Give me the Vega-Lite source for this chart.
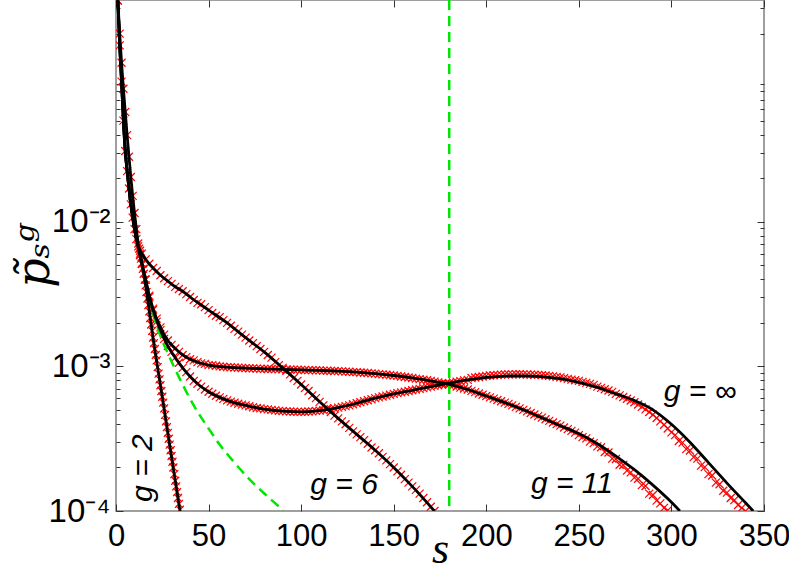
{
"$schema":"https://vega.github.io/schema/vega-lite/v6.json",
"width":648,"height":511,"autosize":"none",
"padding":{"left":116,"top":0,"right":25,"bottom":62},
"config":{"view":{"stroke":"#808080","strokeWidth":1.5},"axis":{"grid":false,"domain":false,"tickColor":"#333333","tickWidth":1,"labelFont":"Liberation Sans","labelColor":"#000000","labelFlush":false,"labelBound":false,"labelOverlap":false}},
"datasets":{
"sim":[
{"g":"6","s":1,"p":0.339},{"g":"6","s":2,"p":0.166},{"g":"6","s":3,"p":0.0933},{"g":"6","s":4,"p":0.0501},{"g":"6","s":5,"p":0.0309},{"g":"6","s":6,"p":0.0224},{"g":"6","s":7,"p":0.0170},{"g":"6","s":8,"p":0.0132},{"g":"6","s":9,"p":0.0107},{"g":"6","s":10,"p":0.00891},{"g":"6","s":11,"p":0.00759},{"g":"6","s":12,"p":0.00676},{"g":"6","s":13,"p":0.00631},
{"g":"6","s":14,"p":0.00603},{"g":"6","s":16,"p":0.00550},{"g":"6","s":18,"p":0.00513},{"g":"6","s":20,"p":0.00479},{"g":"6","s":22,"p":0.00457},{"g":"6","s":24,"p":0.00427},{"g":"6","s":26,"p":0.00407},{"g":"6","s":28,"p":0.00389},{"g":"6","s":30,"p":0.00372},{"g":"6","s":32,"p":0.00355},{"g":"6","s":34,"p":0.00343},{"g":"6","s":36,"p":0.00331},{"g":"6","s":38,"p":0.00316},{"g":"6","s":40,"p":0.00302},{"g":"6","s":42,"p":0.00288},{"g":"6","s":44,"p":0.00275},{"g":"6","s":46,"p":0.00269},{"g":"6","s":48,"p":0.00257},{"g":"6","s":50,"p":0.00245},{"g":"6","s":52,"p":0.00234},{"g":"6","s":54,"p":0.00224},{"g":"6","s":56,"p":0.00219},{"g":"6","s":58,"p":0.00209},{"g":"6","s":60,"p":0.00200},{"g":"6","s":62,"p":0.00191},{"g":"6","s":64,"p":0.00182},{"g":"6","s":66,"p":0.00174},{"g":"6","s":68,"p":0.00166},{"g":"6","s":70,"p":0.00158},{"g":"6","s":72,"p":0.00151},{"g":"6","s":74,"p":0.00145},{"g":"6","s":76,"p":0.00138},{"g":"6","s":78,"p":0.00132},{"g":"6","s":80,"p":0.00126},{"g":"6","s":82,"p":0.00120},{"g":"6","s":84,"p":0.00115},{"g":"6","s":86,"p":0.00107},{"g":"6","s":88,"p":0.00102},{"g":"6","s":90,"p":0.000977},{"g":"6","s":92,"p":0.000933},{"g":"6","s":94,"p":0.000881},{"g":"6","s":96,"p":0.000832},{"g":"6","s":98,"p":0.000794},{"g":"6","s":100,"p":0.000750},{"g":"6","s":102,"p":0.000708},{"g":"6","s":104,"p":0.000676},{"g":"6","s":106,"p":0.000631},{"g":"6","s":108,"p":0.000603},{"g":"6","s":110,"p":0.000569},{"g":"6","s":112,"p":0.000537},{"g":"6","s":114,"p":0.000513},{"g":"6","s":116,"p":0.000484},{"g":"6","s":118,"p":0.000457},{"g":"6","s":120,"p":0.000437},{"g":"6","s":122,"p":0.000417},{"g":"6","s":124,"p":0.000398},{"g":"6","s":126,"p":0.000376},{"g":"6","s":128,"p":0.000355},{"g":"6","s":130,"p":0.000339},{"g":"6","s":132,"p":0.000324},{"g":"6","s":134,"p":0.000309},{"g":"6","s":136,"p":0.000292},{"g":"6","s":138,"p":0.000275},{"g":"6","s":140,"p":0.000263},{"g":"6","s":142,"p":0.000251},{"g":"6","s":144,"p":0.000237},{"g":"6","s":146,"p":0.000224},{"g":"6","s":148,"p":0.000211},{"g":"6","s":150,"p":0.000200},{"g":"6","s":152,"p":0.000188},{"g":"6","s":154,"p":0.000178},{"g":"6","s":156,"p":0.000166},{"g":"6","s":158,"p":0.000157},{"g":"6","s":160,"p":0.000148},{"g":"6","s":162,"p":0.000140},{"g":"6","s":164,"p":0.000132},{"g":"6","s":166,"p":0.000123},{"g":"6","s":168,"p":0.000115},{"g":"6","s":170,"p":0.000107},{"g":"6","s":172,"p":0.000100},
{"g":"2","s":1,"p":0.339},{"g":"2","s":2,"p":0.200},{"g":"2","s":3,"p":0.126},{"g":"2","s":4,"p":0.0832},{"g":"2","s":5,"p":0.0575},{"g":"2","s":6,"p":0.0398},{"g":"2","s":7,"p":0.0282},{"g":"2","s":8,"p":0.0204},{"g":"2","s":9,"p":0.0151},{"g":"2","s":10,"p":0.0115},{"g":"2","s":11,"p":0.00891},{"g":"2","s":12,"p":0.00708},{"g":"2","s":12.5,"p":0.00653},{"g":"2","s":13,"p":0.00603},{"g":"2","s":13.5,"p":0.00556},{"g":"2","s":14,"p":0.00513},{"g":"2","s":14.5,"p":0.00473},{"g":"2","s":15,"p":0.00437},{"g":"2","s":15.5,"p":0.00398},{"g":"2","s":16,"p":0.00363},{"g":"2","s":16.5,"p":0.00327},{"g":"2","s":17,"p":0.00295},{"g":"2","s":17.5,"p":0.00266},{"g":"2","s":18,"p":0.00240},{"g":"2","s":18.5,"p":0.00216},{"g":"2","s":19,"p":0.00195},{"g":"2","s":19.5,"p":0.00176},{"g":"2","s":20,"p":0.00158},{"g":"2","s":20.5,"p":0.00145},{"g":"2","s":21,"p":0.00132},{"g":"2","s":21.5,"p":0.00120},{"g":"2","s":22,"p":0.00110},{"g":"2","s":22.5,"p":0.000989},{"g":"2","s":23,"p":0.000891},{"g":"2","s":23.5,"p":0.000813},{"g":"2","s":24,"p":0.000741},{"g":"2","s":24.5,"p":0.000676},{"g":"2","s":25,"p":0.000617},{"g":"2","s":25.5,"p":0.000562},{"g":"2","s":26,"p":0.000513},{"g":"2","s":26.5,"p":0.000462},{"g":"2","s":27,"p":0.000417},{"g":"2","s":27.5,"p":0.000380},{"g":"2","s":28,"p":0.000347},{"g":"2","s":28.5,"p":0.000316},{"g":"2","s":29,"p":0.000288},{"g":"2","s":29.5,"p":0.000263},{"g":"2","s":30,"p":0.000240},{"g":"2","s":30.5,"p":0.000219},{"g":"2","s":31,"p":0.000200},{"g":"2","s":31.5,"p":0.000180},{"g":"2","s":32,"p":0.000162},{"g":"2","s":32.5,"p":0.000148},{"g":"2","s":33,"p":0.000135},{"g":"2","s":33.5,"p":0.000123},{"g":"2","s":34,"p":0.000112},{"g":"2","s":34.5,"p":0.000102},
{"g":"11","s":13,"p":0.00589},{"g":"11","s":14,"p":0.00513},{"g":"11","s":16,"p":0.00398},{"g":"11","s":18,"p":0.00309},{"g":"11","s":20,"p":0.00251},{"g":"11","s":22,"p":0.00214},{"g":"11","s":24,"p":0.00186},{"g":"11","s":26,"p":0.00166},{"g":"11","s":28,"p":0.00151},{"g":"11","s":30,"p":0.00141},{"g":"11","s":32,"p":0.00133},{"g":"11","s":34,"p":0.00126},{"g":"11","s":36,"p":0.00120},{"g":"11","s":38,"p":0.00116},{"g":"11","s":40,"p":0.00112},{"g":"11","s":42,"p":0.00110},{"g":"11","s":44,"p":0.00107},{"g":"11","s":46,"p":0.00105},{"g":"11","s":48,"p":0.00104},{"g":"11","s":50,"p":0.00102},{"g":"11","s":52,"p":0.00102},{"g":"11","s":54,"p":0.00101},{"g":"11","s":56,"p":0.00100},{"g":"11","s":58,"p":0.000995},{"g":"11","s":60,"p":0.000989},{"g":"11","s":62,"p":0.000986},{"g":"11","s":64,"p":0.000982},{"g":"11","s":66,"p":0.000980},{"g":"11","s":68,"p":0.000975},{"g":"11","s":70,"p":0.000973},{"g":"11","s":72,"p":0.000971},{"g":"11","s":74,"p":0.000968},{"g":"11","s":76,"p":0.000966},{"g":"11","s":78,"p":0.000964},{"g":"11","s":80,"p":0.000962},{"g":"11","s":82,"p":0.000959},{"g":"11","s":84,"p":0.000959},{"g":"11","s":86,"p":0.000957},{"g":"11","s":88,"p":0.000957},{"g":"11","s":90,"p":0.000955},{"g":"11","s":92,"p":0.000953},{"g":"11","s":94,"p":0.000951},{"g":"11","s":96,"p":0.000951},{"g":"11","s":98,"p":0.000948},{"g":"11","s":100,"p":0.000946},{"g":"11","s":102,"p":0.000944},{"g":"11","s":104,"p":0.000942},{"g":"11","s":106,"p":0.000942},{"g":"11","s":108,"p":0.000940},{"g":"11","s":110,"p":0.000938},{"g":"11","s":112,"p":0.000936},{"g":"11","s":114,"p":0.000933},{"g":"11","s":116,"p":0.000931},{"g":"11","s":118,"p":0.000929},{"g":"11","s":120,"p":0.000927},{"g":"11","s":122,"p":0.000925},{"g":"11","s":124,"p":0.000920},{"g":"11","s":126,"p":0.000918},{"g":"11","s":128,"p":0.000914},{"g":"11","s":130,"p":0.000912},{"g":"11","s":132,"p":0.000908},{"g":"11","s":134,"p":0.000904},{"g":"11","s":136,"p":0.000900},{"g":"11","s":138,"p":0.000895},{"g":"11","s":140,"p":0.000891},{"g":"11","s":142,"p":0.000885},{"g":"11","s":144,"p":0.000881},{"g":"11","s":146,"p":0.000875},{"g":"11","s":148,"p":0.000871},{"g":"11","s":150,"p":0.000865},{"g":"11","s":152,"p":0.000859},{"g":"11","s":154,"p":0.000851},{"g":"11","s":156,"p":0.000845},{"g":"11","s":158,"p":0.000838},{"g":"11","s":160,"p":0.000832},{"g":"11","s":162,"p":0.000824},{"g":"11","s":164,"p":0.000817},{"g":"11","s":166,"p":0.000809},{"g":"11","s":168,"p":0.000802},{"g":"11","s":170,"p":0.000794},{"g":"11","s":172,"p":0.000785},{"g":"11","s":174,"p":0.000776},{"g":"11","s":176,"p":0.000767},{"g":"11","s":178,"p":0.000759},{"g":"11","s":180,"p":0.000750},{"g":"11","s":182,"p":0.000738},{"g":"11","s":184,"p":0.000726},{"g":"11","s":186,"p":0.000714},{"g":"11","s":188,"p":0.000703},{"g":"11","s":190,"p":0.000692},{"g":"11","s":192,"p":0.000678},{"g":"11","s":194,"p":0.000664},{"g":"11","s":196,"p":0.000650},{"g":"11","s":198,"p":0.000637},{"g":"11","s":200,"p":0.000624},{"g":"11","s":202,"p":0.000611},{"g":"11","s":204,"p":0.000598},{"g":"11","s":206,"p":0.000586},{"g":"11","s":208,"p":0.000574},{"g":"11","s":210,"p":0.000562},{"g":"11","s":212,"p":0.000550},{"g":"11","s":214,"p":0.000537},{"g":"11","s":216,"p":0.000525},{"g":"11","s":218,"p":0.000513},{"g":"11","s":220,"p":0.000501},{"g":"11","s":222,"p":0.000489},{"g":"11","s":224,"p":0.000476},{"g":"11","s":226,"p":0.000465},{"g":"11","s":228,"p":0.000453},{"g":"11","s":230,"p":0.000442},{"g":"11","s":232,"p":0.000431},{"g":"11","s":234,"p":0.000420},{"g":"11","s":236,"p":0.000409},{"g":"11","s":238,"p":0.000399},{"g":"11","s":240,"p":0.000389},{"g":"11","s":242,"p":0.000378},{"g":"11","s":244,"p":0.000368},{"g":"11","s":246,"p":0.000358},{"g":"11","s":248,"p":0.000348},{"g":"11","s":250,"p":0.000335},{"g":"11","s":252,"p":0.000324},{"g":"11","s":254,"p":0.000318},{"g":"11","s":256,"p":0.000302},{"g":"11","s":258,"p":0.000295},{"g":"11","s":260,"p":0.000280},{"g":"11","s":262,"p":0.000276},{"g":"11","s":264,"p":0.000256},{"g":"11","s":266,"p":0.000254},{"g":"11","s":268,"p":0.000230},{"g":"11","s":270,"p":0.000229},{"g":"11","s":272,"p":0.000209},{"g":"11","s":274,"p":0.000208},{"g":"11","s":276,"p":0.000190},{"g":"11","s":278,"p":0.000185},{"g":"11","s":280,"p":0.000170},{"g":"11","s":282,"p":0.000167},{"g":"11","s":284,"p":0.000151},{"g":"11","s":286,"p":0.000149},{"g":"11","s":288,"p":0.000132},{"g":"11","s":290,"p":0.000129},{"g":"11","s":292,"p":0.000118},{"g":"11","s":294,"p":0.000113},{"g":"11","s":296,"p":0.000105},{"g":"11","s":298,"p":0.000101},
{"g":"inf","s":13,"p":0.00589},{"g":"inf","s":14,"p":0.00513},{"g":"inf","s":16,"p":0.00398},{"g":"inf","s":18,"p":0.00302},{"g":"inf","s":20,"p":0.00245},{"g":"inf","s":22,"p":0.00204},{"g":"inf","s":24,"p":0.00178},{"g":"inf","s":26,"p":0.00155},{"g":"inf","s":28,"p":0.00138},{"g":"inf","s":30,"p":0.00126},{"g":"inf","s":32,"p":0.00115},{"g":"inf","s":34,"p":0.00106},{"g":"inf","s":36,"p":0.000977},{"g":"inf","s":38,"p":0.000912},{"g":"inf","s":40,"p":0.000851},{"g":"inf","s":42,"p":0.000794},{"g":"inf","s":44,"p":0.000759},{"g":"inf","s":46,"p":0.000724},{"g":"inf","s":48,"p":0.000692},{"g":"inf","s":50,"p":0.000668},{"g":"inf","s":52,"p":0.000647},{"g":"inf","s":54,"p":0.000627},{"g":"inf","s":56,"p":0.000610},{"g":"inf","s":58,"p":0.000596},{"g":"inf","s":60,"p":0.000582},{"g":"inf","s":62,"p":0.000571},{"g":"inf","s":64,"p":0.000561},{"g":"inf","s":66,"p":0.000552},{"g":"inf","s":68,"p":0.000544},{"g":"inf","s":70,"p":0.000537},{"g":"inf","s":72,"p":0.000530},{"g":"inf","s":74,"p":0.000522},{"g":"inf","s":76,"p":0.000516},{"g":"inf","s":78,"p":0.000512},{"g":"inf","s":80,"p":0.000507},{"g":"inf","s":82,"p":0.000504},{"g":"inf","s":84,"p":0.000500},{"g":"inf","s":86,"p":0.000497},{"g":"inf","s":88,"p":0.000493},{"g":"inf","s":90,"p":0.000491},{"g":"inf","s":92,"p":0.000489},{"g":"inf","s":94,"p":0.000488},{"g":"inf","s":96,"p":0.000486},{"g":"inf","s":98,"p":0.000485},{"g":"inf","s":100,"p":0.000485},{"g":"inf","s":102,"p":0.000486},{"g":"inf","s":104,"p":0.000488},{"g":"inf","s":106,"p":0.000489},{"g":"inf","s":108,"p":0.000492},{"g":"inf","s":110,"p":0.000495},{"g":"inf","s":112,"p":0.000499},{"g":"inf","s":114,"p":0.000502},{"g":"inf","s":116,"p":0.000507},{"g":"inf","s":118,"p":0.000513},{"g":"inf","s":120,"p":0.000519},{"g":"inf","s":122,"p":0.000525},{"g":"inf","s":124,"p":0.000531},{"g":"inf","s":126,"p":0.000538},{"g":"inf","s":128,"p":0.000547},{"g":"inf","s":130,"p":0.000556},{"g":"inf","s":132,"p":0.000565},{"g":"inf","s":134,"p":0.000574},{"g":"inf","s":136,"p":0.000583},{"g":"inf","s":138,"p":0.000593},{"g":"inf","s":140,"p":0.000603},{"g":"inf","s":142,"p":0.000611},{"g":"inf","s":144,"p":0.000619},{"g":"inf","s":146,"p":0.000628},{"g":"inf","s":148,"p":0.000637},{"g":"inf","s":150,"p":0.000646},{"g":"inf","s":152,"p":0.000653},{"g":"inf","s":154,"p":0.000661},{"g":"inf","s":156,"p":0.000668},{"g":"inf","s":158,"p":0.000676},{"g":"inf","s":160,"p":0.000684},{"g":"inf","s":162,"p":0.000692},{"g":"inf","s":164,"p":0.000700},{"g":"inf","s":166,"p":0.000708},{"g":"inf","s":168,"p":0.000716},{"g":"inf","s":170,"p":0.000724},{"g":"inf","s":172,"p":0.000733},{"g":"inf","s":174,"p":0.000741},{"g":"inf","s":176,"p":0.000750},{"g":"inf","s":178,"p":0.000759},{"g":"inf","s":180,"p":0.000767},{"g":"inf","s":182,"p":0.000776},{"g":"inf","s":184,"p":0.000783},{"g":"inf","s":186,"p":0.000791},{"g":"inf","s":188,"p":0.000800},{"g":"inf","s":190,"p":0.000807},{"g":"inf","s":192,"p":0.000832},{"g":"inf","s":194,"p":0.000838},{"g":"inf","s":196,"p":0.000845},{"g":"inf","s":198,"p":0.000851},{"g":"inf","s":200,"p":0.000859},{"g":"inf","s":202,"p":0.000865},{"g":"inf","s":204,"p":0.000869},{"g":"inf","s":206,"p":0.000873},{"g":"inf","s":208,"p":0.000877},{"g":"inf","s":210,"p":0.000879},{"g":"inf","s":212,"p":0.000881},{"g":"inf","s":214,"p":0.000881},{"g":"inf","s":216,"p":0.000883},{"g":"inf","s":218,"p":0.000883},{"g":"inf","s":220,"p":0.000881},{"g":"inf","s":222,"p":0.000879},{"g":"inf","s":224,"p":0.000877},{"g":"inf","s":226,"p":0.000875},{"g":"inf","s":228,"p":0.000873},{"g":"inf","s":230,"p":0.000871},{"g":"inf","s":232,"p":0.000865},{"g":"inf","s":234,"p":0.000859},{"g":"inf","s":236,"p":0.000853},{"g":"inf","s":238,"p":0.000847},{"g":"inf","s":240,"p":0.000839},{"g":"inf","s":242,"p":0.000830},{"g":"inf","s":244,"p":0.000820},{"g":"inf","s":246,"p":0.000811},{"g":"inf","s":248,"p":0.000802},{"g":"inf","s":250,"p":0.000794},{"g":"inf","s":252,"p":0.000782},{"g":"inf","s":254,"p":0.000769},{"g":"inf","s":256,"p":0.000757},{"g":"inf","s":258,"p":0.000745},{"g":"inf","s":260,"p":0.000724},{"g":"inf","s":262,"p":0.000710},{"g":"inf","s":264,"p":0.000695},{"g":"inf","s":266,"p":0.000681},{"g":"inf","s":268,"p":0.000667},{"g":"inf","s":270,"p":0.000646},{"g":"inf","s":272,"p":0.000631},{"g":"inf","s":274,"p":0.000614},{"g":"inf","s":276,"p":0.000597},{"g":"inf","s":278,"p":0.000581},{"g":"inf","s":280,"p":0.000565},{"g":"inf","s":282,"p":0.000545},{"g":"inf","s":284,"p":0.000525},{"g":"inf","s":286,"p":0.000505},{"g":"inf","s":288,"p":0.000484},{"g":"inf","s":290,"p":0.000463},{"g":"inf","s":292,"p":0.000440},{"g":"inf","s":294,"p":0.000417},{"g":"inf","s":296,"p":0.000395},{"g":"inf","s":298,"p":0.000372},{"g":"inf","s":300,"p":0.000350},{"g":"inf","s":302,"p":0.000335},{"g":"inf","s":304,"p":0.000305},{"g":"inf","s":306,"p":0.000297},{"g":"inf","s":308,"p":0.000268},{"g":"inf","s":310,"p":0.000262},{"g":"inf","s":312,"p":0.000236},{"g":"inf","s":314,"p":0.000230},{"g":"inf","s":316,"p":0.000206},{"g":"inf","s":318,"p":0.000201},{"g":"inf","s":320,"p":0.000180},{"g":"inf","s":322,"p":0.000176},{"g":"inf","s":324,"p":0.000157},{"g":"inf","s":326,"p":0.000153},{"g":"inf","s":328,"p":0.000138},{"g":"inf","s":330,"p":0.000134},{"g":"inf","s":332,"p":0.000123},{"g":"inf","s":334,"p":0.000119},{"g":"inf","s":336,"p":0.000110},{"g":"inf","s":338,"p":0.000105},{"g":"inf","s":340,"p":0.000100}
],
"fit":[
{"g":"6","s":1,"p":0.339},{"g":"6","s":2,"p":0.166},{"g":"6","s":3,"p":0.0933},{"g":"6","s":4,"p":0.0501},{"g":"6","s":5,"p":0.0309},{"g":"6","s":6,"p":0.0224},{"g":"6","s":7,"p":0.0170},{"g":"6","s":8,"p":0.0132},{"g":"6","s":9,"p":0.0107},{"g":"6","s":10,"p":0.00891},{"g":"6","s":11,"p":0.00759},{"g":"6","s":12,"p":0.00676},{"g":"6","s":13,"p":0.00631},{"g":"6","s":14,"p":0.00603},{"g":"6","s":16,"p":0.00550},{"g":"6","s":20,"p":0.00479},{"g":"6","s":24,"p":0.00427},{"g":"6","s":28,"p":0.00389},{"g":"6","s":32,"p":0.00355},{"g":"6","s":36,"p":0.00331},{"g":"6","s":40,"p":0.00302},{"g":"6","s":50,"p":0.00245},{"g":"6","s":60,"p":0.00200},{"g":"6","s":70,"p":0.00158},{"g":"6","s":80,"p":0.00126},{"g":"6","s":90,"p":0.000977},{"g":"6","s":100,"p":0.000750},{"g":"6","s":110,"p":0.000569},{"g":"6","s":120,"p":0.000437},{"g":"6","s":130,"p":0.000339},{"g":"6","s":140,"p":0.000263},{"g":"6","s":150,"p":0.000200},{"g":"6","s":160,"p":0.000148},{"g":"6","s":172,"p":0.000100},
{"g":"2","s":1,"p":0.339},{"g":"2","s":2,"p":0.200},{"g":"2","s":3,"p":0.126},{"g":"2","s":4,"p":0.0832},{"g":"2","s":5,"p":0.0575},{"g":"2","s":6,"p":0.0398},{"g":"2","s":7,"p":0.0282},{"g":"2","s":8,"p":0.0204},{"g":"2","s":9,"p":0.0151},{"g":"2","s":10,"p":0.0115},{"g":"2","s":11,"p":0.00891},{"g":"2","s":12,"p":0.00708},{"g":"2","s":13,"p":0.00603},{"g":"2","s":14,"p":0.00513},{"g":"2","s":15,"p":0.00437},{"g":"2","s":16,"p":0.00363},{"g":"2","s":18,"p":0.00240},{"g":"2","s":20,"p":0.00158},{"g":"2","s":24,"p":0.000741},{"g":"2","s":28,"p":0.000347},{"g":"2","s":32,"p":0.000162},{"g":"2","s":34.6,"p":0.000100},
{"g":"11","s":1,"p":0.339},{"g":"11","s":2,"p":0.166},{"g":"11","s":3,"p":0.0933},{"g":"11","s":4,"p":0.0501},{"g":"11","s":5,"p":0.0309},{"g":"11","s":6,"p":0.0224},{"g":"11","s":7,"p":0.0170},{"g":"11","s":8,"p":0.0132},{"g":"11","s":9,"p":0.0107},{"g":"11","s":10,"p":0.00891},{"g":"11","s":11,"p":0.00759},{"g":"11","s":12,"p":0.00676},{"g":"11","s":13,"p":0.00589},{"g":"11","s":14,"p":0.00513},{"g":"11","s":16,"p":0.00398},{"g":"11","s":18,"p":0.00309},{"g":"11","s":20,"p":0.00251},{"g":"11","s":24,"p":0.00186},{"g":"11","s":28,"p":0.00151},{"g":"11","s":32,"p":0.00133},{"g":"11","s":36,"p":0.00120},{"g":"11","s":40,"p":0.00112},{"g":"11","s":45,"p":0.00106},{"g":"11","s":50,"p":0.00102},{"g":"11","s":60,"p":0.000989},{"g":"11","s":70,"p":0.000973},{"g":"11","s":80,"p":0.000962},{"g":"11","s":90,"p":0.000955},{"g":"11","s":100,"p":0.000946},{"g":"11","s":110,"p":0.000938},{"g":"11","s":120,"p":0.000927},{"g":"11","s":130,"p":0.000912},{"g":"11","s":140,"p":0.000891},{"g":"11","s":150,"p":0.000865},{"g":"11","s":160,"p":0.000832},{"g":"11","s":170,"p":0.000794},{"g":"11","s":180,"p":0.000750},{"g":"11","s":190,"p":0.000692},{"g":"11","s":200,"p":0.000624},{"g":"11","s":210,"p":0.000562},{"g":"11","s":220,"p":0.000501},{"g":"11","s":230,"p":0.000442},{"g":"11","s":240,"p":0.000389},{"g":"11","s":250,"p":0.000343},{"g":"11","s":260,"p":0.000292},{"g":"11","s":270,"p":0.000240},{"g":"11","s":280,"p":0.000193},{"g":"11","s":290,"p":0.000151},{"g":"11","s":300,"p":0.000115},{"g":"11","s":304.6,"p":0.000100},
{"g":"inf","s":1,"p":0.339},{"g":"inf","s":2,"p":0.166},{"g":"inf","s":3,"p":0.0933},{"g":"inf","s":4,"p":0.0501},{"g":"inf","s":5,"p":0.0309},{"g":"inf","s":6,"p":0.0224},{"g":"inf","s":7,"p":0.0170},{"g":"inf","s":8,"p":0.0132},{"g":"inf","s":9,"p":0.0107},{"g":"inf","s":10,"p":0.00891},{"g":"inf","s":11,"p":0.00759},{"g":"inf","s":12,"p":0.00676},{"g":"inf","s":13,"p":0.00589},{"g":"inf","s":14,"p":0.00513},{"g":"inf","s":16,"p":0.00398},{"g":"inf","s":18,"p":0.00302},{"g":"inf","s":20,"p":0.00245},{"g":"inf","s":24,"p":0.00178},{"g":"inf","s":28,"p":0.00138},{"g":"inf","s":32,"p":0.00115},{"g":"inf","s":36,"p":0.000977},{"g":"inf","s":40,"p":0.000851},{"g":"inf","s":45,"p":0.000741},{"g":"inf","s":50,"p":0.000668},{"g":"inf","s":60,"p":0.000582},{"g":"inf","s":70,"p":0.000537},{"g":"inf","s":80,"p":0.000507},{"g":"inf","s":90,"p":0.000491},{"g":"inf","s":100,"p":0.000485},{"g":"inf","s":110,"p":0.000495},{"g":"inf","s":120,"p":0.000519},{"g":"inf","s":130,"p":0.000556},{"g":"inf","s":140,"p":0.000603},{"g":"inf","s":150,"p":0.000646},{"g":"inf","s":160,"p":0.000684},{"g":"inf","s":170,"p":0.000724},{"g":"inf","s":180,"p":0.000767},{"g":"inf","s":190,"p":0.000807},{"g":"inf","s":200,"p":0.000839},{"g":"inf","s":210,"p":0.000857},{"g":"inf","s":220,"p":0.000861},{"g":"inf","s":230,"p":0.000851},{"g":"inf","s":240,"p":0.000822},{"g":"inf","s":250,"p":0.000776},{"g":"inf","s":260,"p":0.000716},{"g":"inf","s":270,"p":0.000646},{"g":"inf","s":280,"p":0.000581},{"g":"inf","s":290,"p":0.000501},{"g":"inf","s":300,"p":0.000398},{"g":"inf","s":310,"p":0.000299},{"g":"inf","s":320,"p":0.000216},{"g":"inf","s":330,"p":0.000156},{"g":"inf","s":340,"p":0.000114},{"g":"inf","s":344.2,"p":0.000100}
],
"green":[{"s":18,"p":0.00302},{"s":20,"p":0.00234},{"s":24,"p":0.00162},{"s":28,"p":0.00123},{"s":34.6,"p":0.000813},{"s":42,"p":0.000537},{"s":50,"p":0.000372},{"s":56,"p":0.000288},{"s":64,"p":0.000216},{"s":72,"p":0.000166},{"s":81,"p":0.000129},{"s":90.4,"p":0.000101}],
"vline":[{"s":180}],
"rotlab":[{"t":"g = 2","s":14.5,"p":0.000198}],
"labs":[{"t":"g = 6","s":123.2,"p":0.000151},{"t":"g = 11","s":246.3,"p":0.000153},{"t":"g = ∞","s":315.4,"p":0.000664}]
},
"layer":[
{"data":{"name":"sim"},
 "mark":{"type":"point","shape":"M-1,-1L1,1M-1,1L1,-1","filled":false,"stroke":"#ff0000","strokeWidth":1.2,"size":64,"opacity":1,"clip":true},
 "encoding":{
  "x":{"field":"s","type":"quantitative","scale":{"domain":[0,350],"nice":false},
   "axis":{"orient":"bottom","values":[0,50,100,150,200,250,300,350],"tickSize":-7,"labelPadding":17,"labelFontSize":31,"title":"s","titleFont":"Liberation Serif","titleFontStyle":"italic","titleFontWeight":"normal","titleFontSize":44,"titleColor":"#000000","titlePadding":-24}},
  "y":{"field":"p","type":"quantitative","scale":{"type":"log","domain":[0.0001,0.342],"nice":false},
   "axis":{"orient":"left","values":[0.0001,0.001,0.01],"tickSize":-7,"labelPadding":13,"labelFontSize":33,"labelExpr":"datum.value < 0.0002 ? '10⁻⁴' : datum.value < 0.002 ? '10⁻³' : '10⁻²'","title":"p̃ₛᵍ","titleFont":"DejaVu Serif","titleFontStyle":"italic","titleFontWeight":"normal","titleFontSize":46,"titleColor":"#000000","titlePadding":-10}}
 }},
{"data":{"name":"green"},
 "mark":{"type":"line","color":"#00e600","strokeWidth":2.5,"strokeDash":[10,6],"interpolate":"monotone","clip":true},
 "encoding":{
  "x":{"field":"s","type":"quantitative","scale":{"domain":[0,350],"nice":false},"axis":{"orient":"top","values":[0,50,100,150,200,250,300,350],"tickSize":-7,"labels":false,"title":null}},
  "y":{"field":"p","type":"quantitative","scale":{"type":"log","domain":[0.0001,0.342],"nice":false},"axis":{"orient":"left","values":[0.0002,0.0003,0.0004,0.0005,0.0006,0.0007,0.0008,0.0009,0.002,0.003,0.004,0.005,0.006,0.007,0.008,0.009,0.02,0.03,0.04,0.05,0.06,0.07,0.08,0.09,0.2,0.3],"tickSize":-4,"labels":false,"title":null}}
 }},
{"data":{"name":"vline"},
 "mark":{"type":"rule","color":"#00e600","strokeWidth":2.5,"strokeDash":[10,6]},
 "encoding":{"x":{"field":"s","type":"quantitative","scale":{"domain":[0,350],"nice":false},"axis":null}}},
{"data":{"name":"fit"},
 "mark":{"type":"line","color":"#000000","strokeWidth":2.8,"interpolate":"monotone","clip":true},
 "encoding":{
  "x":{"field":"s","type":"quantitative","scale":{"domain":[0,350],"nice":false},"axis":null},
  "y":{"field":"p","type":"quantitative","scale":{"type":"log","domain":[0.0001,0.342],"nice":false},"axis":{"orient":"right","values":[0.0001,0.001,0.01],"tickSize":-7,"labels":false,"title":null}},
  "detail":{"field":"g","type":"nominal"}
 }},
{"data":{"name":"rotlab"},
 "mark":{"type":"text","font":"Liberation Sans","fontStyle":"italic","fontSize":30,"angle":270,"align":"center","baseline":"middle","color":"#000000"},
 "encoding":{
  "x":{"field":"s","type":"quantitative","scale":{"domain":[0,350],"nice":false},"axis":null},
  "y":{"field":"p","type":"quantitative","scale":{"type":"log","domain":[0.0001,0.342],"nice":false},"axis":{"orient":"right","values":[0.0002,0.0003,0.0004,0.0005,0.0006,0.0007,0.0008,0.0009,0.002,0.003,0.004,0.005,0.006,0.007,0.008,0.009,0.02,0.03,0.04,0.05,0.06,0.07,0.08,0.09,0.2,0.3],"tickSize":-4,"labels":false,"title":null}},
  "text":{"field":"t","type":"nominal"}
 }},
{"data":{"name":"labs"},
 "mark":{"type":"text","font":"Liberation Sans","fontStyle":"italic","fontSize":30,"align":"center","baseline":"middle","color":"#000000"},
 "encoding":{
  "x":{"field":"s","type":"quantitative","scale":{"domain":[0,350],"nice":false},"axis":null},
  "y":{"field":"p","type":"quantitative","scale":{"type":"log","domain":[0.0001,0.342],"nice":false},"axis":null},
  "text":{"field":"t","type":"nominal"}
 }}
],
"resolve":{"axis":{"x":"independent","y":"independent"}}
}
